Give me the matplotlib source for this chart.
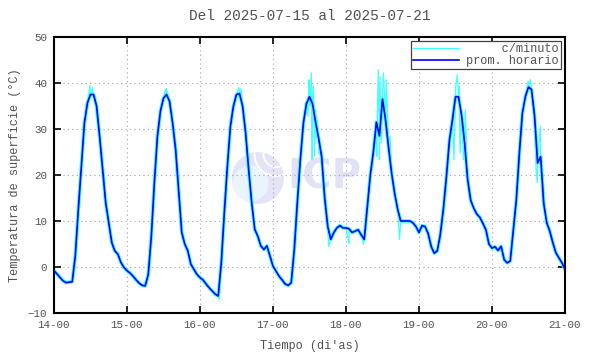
import matplotlib
matplotlib.use('Agg')
import matplotlib.pyplot as plt
from matplotlib.patches import Ellipse, Arc
import numpy as np

# hourly means (prom. horario), 14-00 .. 21-00, one list per day
dia14 = [-0.8, -1.5, -2.3, -3.0, -3.4, -3.3, -3.2, 2.4, 12.5, 21.9, 31.3, 35.7,
         37.5, 37.5, 35.0, 28.4, 21.2, 14.0, 9.6, 5.3, 3.5, 2.8, 1.0, -0.1]
dia15 = [-0.8, -1.3, -2.0, -2.8, -3.5, -4.0, -4.1, -1.6, 6.7, 18.3, 28.4, 33.9,
         36.7, 37.5, 36.0, 31.3, 25.5, 16.5, 7.5, 5.0, 3.5, 0.6, -0.5, -1.6]
dia16 = [-2.3, -2.8, -3.7, -4.5, -5.2, -5.9, -6.3, 0.9, 11.8, 21.9, 30.6, 35.0,
         37.5, 37.7, 35.0, 29.2, 21.2, 14.0, 8.2, 6.7, 4.6, 3.8, 4.6, 2.4]
dia17 = [0.2, -0.9, -2.0, -2.8, -3.7, -4.0, -3.4, 3.8, 14.0, 23.4, 31.3, 35.5,
         37.0, 35.5, 31.5, 28.0, 24.0, 15.0, 8.8, 6.0, 7.5, 8.5, 9.0, 8.5]
dia18 = [8.5, 8.3, 7.5, 7.8, 8.1, 7.0, 6.0, 13.0, 20.0, 25.0, 31.5, 28.5,
         36.5, 32.0, 26.0, 20.4, 16.0, 12.5, 10.0, 10.0, 10.0, 10.0, 9.6, 8.8]
dia19 = [7.5, 9.0, 8.8, 7.3, 4.5, 3.0, 3.5, 7.0, 12.5, 19.5, 27.5, 32.0,
         37.0, 37.0, 33.0, 27.0, 19.0, 14.5, 12.8, 11.5, 10.8, 9.5, 8.1, 5.0]
dia20 = [4.1, 4.4, 3.6, 4.5, 1.6, 0.9, 1.3, 8.0, 14.6, 24.8, 33.5, 37.1,
         39.1, 38.6, 32.8, 22.6, 24.0, 13.9, 9.6, 7.8, 5.3, 3.1, 2.0, 0.9]
fin = [-0.5]

# minute readings that stand out from the hourly mean (hours since 14-00, degC)
pico_t = [11.8, 12.3, 12.6, 36.6, 37.0, 54.3, 60.8, 61.2, 61.5,
          83.5, 83.8, 84.2, 84.6, 84.9, 85.3, 85.7, 86.0, 86.4, 86.6, 87.1, 90.3,
          97.0, 101.8, 105.5, 106.1, 106.6, 107.0, 107.2, 107.7, 108.1, 108.3,
          108.8, 109.2, 109.8, 110.2, 110.5, 113.6,
          131.5, 132.1, 132.6, 133.2, 133.5, 134.3, 134.6, 135.2,
          155.9, 156.6, 158.5, 158.9, 159.4, 159.9, 160.2]
pico_v = [39.5, 37.0, 39.0, 38.5, 38.8, -7.0, 39.0, 37.0, 38.8,
          32.8, 40.7, 35.0, 42.2, 23.3, 39.3, 24.0, 34.2, 28.0, 31.9, 24.8, 4.5,
          5.0, 5.0, 27.7, 24.0, 42.9, 23.3, 41.4, 27.0, 39.3, 42.2,
          35.7, 40.7, 30.6, 24.0, 28.4, 6.0,
          23.3, 39.3, 41.8, 39.3, 24.8, 31.3, 23.3, 34.2,
          40.4, 40.7, 21.2, 18.3, 26.2, 30.6, 19.7]

dias = ['14-00', '15-00', '16-00', '17-00', '18-00', '19-00', '20-00', '21-00']

horario = np.array(dia14 + dia15 + dia16 + dia17 + dia18 + dia19 + dia20 + fin)
t_hora = np.arange(len(horario))

# minute series: hourly points plus the outliers, in time order
t_min = np.concatenate([t_hora, pico_t])
v_min = np.concatenate([horario, pico_v])
orden = np.argsort(t_min)
t_min = t_min[orden]
v_min = v_min[orden]

plt.rcParams['font.family'] = ['Liberation Mono', 'DejaVu Sans Mono']
plt.rcParams['font.size'] = 8.6
gris = '#505050'

fig = plt.figure(figsize=(5.9, 3.54), dpi=100)
ax = fig.add_axes([0.0915, 0.1158, 0.8661, 0.7797])

# watermark (round in pixels, so width/height differ in axes units)
ax.add_patch(Ellipse((0.399, 0.489), 0.102, 0.188, transform=ax.transAxes,
                     facecolor='#e4e4f6', edgecolor='none', zorder=0))
ax.add_patch(Ellipse((0.385, 0.47), 0.07, 0.13, transform=ax.transAxes,
                     facecolor='#eaf4fc', edgecolor='none', zorder=0))
for r in [0.05, 0.085]:
    ax.add_patch(Arc((0.435, 0.575), r, r * 1.85, theta1=170, theta2=330,
                     transform=ax.transAxes, color='white', lw=1.3, zorder=0))
ax.text(0.456, 0.49, 'ICP', transform=ax.transAxes, ha='left', va='center',
        fontsize=29, fontweight='bold', family='DejaVu Sans', color='#e2e2f5',
        zorder=0)

ax.plot(t_hora, horario, color='#40ffff', lw=2.6, zorder=2)
ax.plot(t_min, v_min, color='#40ffff', lw=0.9, zorder=2, label='     c/minuto')
ax.plot(t_hora, horario, color='#0000ff', lw=1.2, zorder=3, label='prom. horario')

ax.set_xlim(0, 168)
ax.set_ylim(-10, 50)
ax.set_xticks(np.arange(0, 169, 24))
ax.set_xticklabels(dias)
ax.set_yticks(np.arange(-10, 51, 10))
ax.grid(True, color='#a0a0a0', linestyle=(0, (1, 3)), lw=0.8)
ax.tick_params(direction='in', length=5, width=1.2, top=True, right=True,
               colors='black', labelcolor=gris, labelsize=7.8, pad=5)
for s in ax.spines.values():
    s.set_linewidth(1.5)

ax.set_title('Del 2025-07-15 al 2025-07-21', color=gris, pad=12)
ax.set_xlabel("Tiempo (di'as)", color=gris, labelpad=7)
ax.set_ylabel('Temperatura de superficie (°C)', color=gris, labelpad=5)

leg = ax.legend(loc='upper right', fancybox=False, edgecolor='#404040',
                framealpha=1, handlelength=3.9, borderaxespad=0.35,
                borderpad=0.15, labelspacing=0.0, handletextpad=0.6)
leg.get_frame().set_linewidth(0.9)
for t in leg.get_texts():
    t.set_color(gris)

fig.savefig('out.png', dpi=100)
print('[INFO] Done')
